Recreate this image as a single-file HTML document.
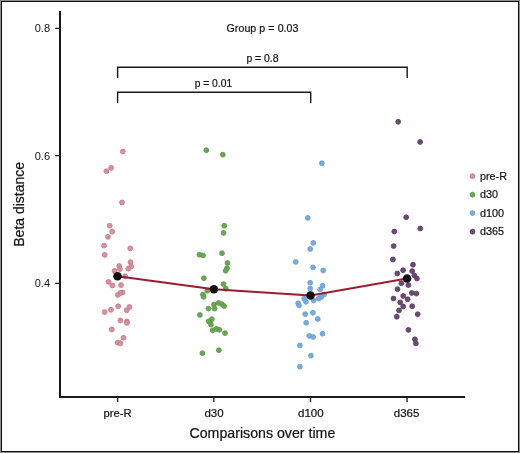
<!DOCTYPE html>
<html><head><meta charset="utf-8"><title>Beta distance</title>
<style>html,body{margin:0;padding:0;background:#fefefe;}body{width:520px;height:453px;position:relative;overflow:hidden;font-family:"Liberation Sans", sans-serif;}</style>
</head><body>
<svg width="520" height="453" viewBox="0 0 520 453" style="position:absolute;left:0;top:0">
<rect x="0" y="0" width="520" height="453" fill="#fefefe"/>
<rect x="0.5" y="0.5" width="519" height="452" fill="none" stroke="#8e8e8e" stroke-width="1"/>
<rect x="1.5" y="1.5" width="517" height="450" fill="none" stroke="#111" stroke-width="1"/>
<g stroke="#1a1a1a" fill="none" stroke-linecap="butt">
<path d="M60 11 V397 H465.2" stroke-width="2" stroke-linejoin="miter"/>
<path d="M55.2 28.4 H60 M55.2 155.6 H60 M55.2 283.3 H60" stroke-width="1.3"/>
<path d="M117.6 397 V402 M213.9 397 V402 M310.5 397 V402 M407.1 397 V402" stroke-width="1.3"/>
<path d="M117.6 78 V67.2 H407.2 V78" stroke-width="1.4"/>
<path d="M117.6 103 V92.2 H310.7 V103" stroke-width="1.4"/>
</g>
<g font-family='"Liberation Sans", sans-serif' fill="#111" stroke="#111" stroke-width="0.2" style="will-change:opacity;opacity:0.999">
<g font-size="11" text-anchor="end" stroke="none">
<text x="50" y="31.7">0.8</text>
<text x="50" y="159.6">0.6</text>
<text x="50" y="287.4">0.4</text>
</g>
<g font-size="11" text-anchor="middle">
<text x="117.6" y="417" font-size="11.3">pre-R</text>
<text x="214" y="417" font-size="11.5">d30</text>
<text x="310.8" y="417" font-size="11.5">d100</text>
<text x="406.6" y="417" font-size="11.5">d365</text>
</g>
<text x="262.4" y="437.8" font-size="14.2" text-anchor="middle">Comparisons over time</text>
<text transform="translate(24.4 204.3) rotate(-90)" font-size="14" text-anchor="middle">Beta distance</text>
<text x="262.5" y="31.6" font-size="10.6" text-anchor="middle" textLength="72" lengthAdjust="spacing">Group p = 0.03</text>
<text x="262.5" y="61.8" font-size="10.4" text-anchor="middle">p = 0.8</text>
<text x="213.4" y="86.5" font-size="10.3" text-anchor="middle">p = 0.01</text>
<g font-size="10.8">
<text x="480" y="179.7">pre-R</text>
<text x="480" y="198.2">d30</text>
<text x="480" y="216.7">d100</text>
<text x="480" y="235.2">d365</text>
</g>
</g>
<g stroke-width="0.8">
<circle cx="472.5" cy="176.2" r="2.45" fill="#d4929d" stroke="#c77683"/>
<circle cx="472.5" cy="194.7" r="2.45" fill="#6aa655" stroke="#5a9744"/>
<circle cx="472.5" cy="213.1" r="2.45" fill="#79acd8" stroke="#669dd0"/>
<circle cx="472.5" cy="231.7" r="2.45" fill="#6b4b73" stroke="#583760"/>
</g>
<g fill="#d4929d" stroke="#c77683" stroke-width="0.8"><circle cx="122.8" cy="151.5" r="2.45"/><circle cx="111.1" cy="167.9" r="2.45"/><circle cx="106.4" cy="171.2" r="2.45"/><circle cx="122.0" cy="202.5" r="2.45"/><circle cx="109.7" cy="225.7" r="2.45"/><circle cx="112.2" cy="231.6" r="2.45"/><circle cx="108.0" cy="236.9" r="2.45"/><circle cx="104.05" cy="245.6" r="2.45"/><circle cx="130.3" cy="248.4" r="2.45"/><circle cx="104.7" cy="254.9" r="2.45"/><circle cx="130.5" cy="262.2" r="2.45"/><circle cx="131.3" cy="266.5" r="2.45"/><circle cx="128.3" cy="268.7" r="2.45"/><circle cx="119.2" cy="266.0" r="2.45"/><circle cx="119.9" cy="269.1" r="2.45"/><circle cx="114.6" cy="270.9" r="2.45"/><circle cx="125.2" cy="276.2" r="2.45"/><circle cx="108.6" cy="281.9" r="2.45"/><circle cx="112.4" cy="285.5" r="2.45"/><circle cx="121.0" cy="285.1" r="2.45"/><circle cx="122.5" cy="292.4" r="2.45"/><circle cx="120.4" cy="293.0" r="2.45"/><circle cx="117.8" cy="294.9" r="2.45"/><circle cx="118.2" cy="306.3" r="2.45"/><circle cx="111.0" cy="309.8" r="2.45"/><circle cx="104.7" cy="312.1" r="2.45"/><circle cx="129.5" cy="307.0" r="2.45"/><circle cx="126.7" cy="310.3" r="2.45"/><circle cx="120.4" cy="320.5" r="2.45"/><circle cx="126.9" cy="321.5" r="2.45"/><circle cx="126.9" cy="322.8" r="2.45"/><circle cx="111.8" cy="329.5" r="2.45"/><circle cx="123.5" cy="337.8" r="2.45"/><circle cx="117.6" cy="342.7" r="2.45"/><circle cx="120.4" cy="343.3" r="2.45"/></g>
<g fill="#6aa655" stroke="#5a9744" stroke-width="0.8"><circle cx="206.3" cy="150.2" r="2.45"/><circle cx="222.8" cy="154.7" r="2.45"/><circle cx="224.3" cy="225.7" r="2.45"/><circle cx="223.6" cy="232.9" r="2.45"/><circle cx="199.4" cy="254.7" r="2.45"/><circle cx="203.0" cy="255.4" r="2.45"/><circle cx="222.0" cy="253.2" r="2.45"/><circle cx="227.5" cy="263.0" r="2.45"/><circle cx="227.0" cy="268.2" r="2.45"/><circle cx="225.7" cy="270.8" r="2.45"/><circle cx="203.9" cy="278.2" r="2.45"/><circle cx="223.5" cy="284.1" r="2.45"/><circle cx="225.8" cy="288.8" r="2.45"/><circle cx="207.3" cy="290.8" r="2.45"/><circle cx="202.9" cy="294.6" r="2.45"/><circle cx="203.6" cy="296.8" r="2.45"/><circle cx="214.0" cy="304.6" r="2.45"/><circle cx="214.6" cy="308.6" r="2.45"/><circle cx="218.7" cy="302.9" r="2.45"/><circle cx="221.9" cy="304.2" r="2.45"/><circle cx="224.1" cy="306.1" r="2.45"/><circle cx="208.4" cy="308.6" r="2.45"/><circle cx="199.9" cy="315.0" r="2.45"/><circle cx="211.8" cy="319.2" r="2.45"/><circle cx="208.7" cy="321.4" r="2.45"/><circle cx="210.9" cy="324.5" r="2.45"/><circle cx="212.7" cy="330.2" r="2.45"/><circle cx="216.6" cy="328.9" r="2.45"/><circle cx="219.3" cy="329.8" r="2.45"/><circle cx="225.0" cy="333.1" r="2.45"/><circle cx="218.9" cy="350.2" r="2.45"/><circle cx="202.4" cy="353.2" r="2.45"/></g>
<g fill="#79acd8" stroke="#669dd0" stroke-width="0.8"><circle cx="321.9" cy="163.2" r="2.45"/><circle cx="307.8" cy="217.9" r="2.45"/><circle cx="313.3" cy="242.9" r="2.45"/><circle cx="310.2" cy="249.0" r="2.45"/><circle cx="295.8" cy="261.9" r="2.45"/><circle cx="313.0" cy="267.4" r="2.45"/><circle cx="323.2" cy="270.5" r="2.45"/><circle cx="310.2" cy="282.8" r="2.45"/><circle cx="322.6" cy="285.7" r="2.45"/><circle cx="310.2" cy="288.6" r="2.45"/><circle cx="320.1" cy="289.4" r="2.45"/><circle cx="324.2" cy="294.5" r="2.45"/><circle cx="321.2" cy="297.0" r="2.45"/><circle cx="318.6" cy="298.5" r="2.45"/><circle cx="313.6" cy="300.4" r="2.45"/><circle cx="304.1" cy="298.8" r="2.45"/><circle cx="306.0" cy="301.8" r="2.45"/><circle cx="298.2" cy="303.3" r="2.45"/><circle cx="299.1" cy="305.5" r="2.45"/><circle cx="305.2" cy="314.1" r="2.45"/><circle cx="312.9" cy="312.7" r="2.45"/><circle cx="317.8" cy="319.0" r="2.45"/><circle cx="306.2" cy="322.8" r="2.45"/><circle cx="309.3" cy="335.9" r="2.45"/><circle cx="313.1" cy="337.0" r="2.45"/><circle cx="322.5" cy="333.7" r="2.45"/><circle cx="299.9" cy="345.4" r="2.45"/><circle cx="310.9" cy="355.7" r="2.45"/><circle cx="299.9" cy="366.7" r="2.45"/></g>
<g fill="#6b4b73" stroke="#583760" stroke-width="0.8"><circle cx="398.2" cy="121.8" r="2.45"/><circle cx="420.1" cy="142.0" r="2.45"/><circle cx="406.2" cy="217.3" r="2.45"/><circle cx="420.3" cy="228.5" r="2.45"/><circle cx="394.3" cy="231.5" r="2.45"/><circle cx="393.6" cy="246.1" r="2.45"/><circle cx="392.9" cy="259.5" r="2.45"/><circle cx="413.0" cy="264.8" r="2.45"/><circle cx="403.1" cy="270.2" r="2.45"/><circle cx="397.3" cy="273.5" r="2.45"/><circle cx="412.2" cy="271.1" r="2.45"/><circle cx="414.4" cy="275.5" r="2.45"/><circle cx="416.9" cy="278.5" r="2.45"/><circle cx="401.4" cy="283.3" r="2.45"/><circle cx="408.4" cy="285.1" r="2.45"/><circle cx="397.5" cy="289.2" r="2.45"/><circle cx="411.8" cy="293.0" r="2.45"/><circle cx="416.4" cy="293.6" r="2.45"/><circle cx="403.2" cy="296.0" r="2.45"/><circle cx="407.6" cy="299.3" r="2.45"/><circle cx="393.5" cy="298.5" r="2.45"/><circle cx="400.2" cy="302.4" r="2.45"/><circle cx="403.2" cy="306.5" r="2.45"/><circle cx="412.2" cy="306.2" r="2.45"/><circle cx="399.0" cy="310.4" r="2.45"/><circle cx="417.7" cy="314.2" r="2.45"/><circle cx="396.8" cy="316.7" r="2.45"/><circle cx="408.5" cy="329.9" r="2.45"/><circle cx="414.9" cy="339.3" r="2.45"/><circle cx="415.9" cy="343.4" r="2.45"/></g>
<polyline points="117.5,276.2 213.9,289.2 310.5,295.5 407.1,278.5" fill="none" stroke="#9d1b31" stroke-width="2" stroke-linejoin="round"/>
<g fill="#111"><circle cx="117.5" cy="276.2" r="4.3"/><circle cx="213.9" cy="289.2" r="4.3"/><circle cx="310.5" cy="295.5" r="4.3"/><circle cx="407.1" cy="278.5" r="4.3"/></g>
</svg>
</body></html>
